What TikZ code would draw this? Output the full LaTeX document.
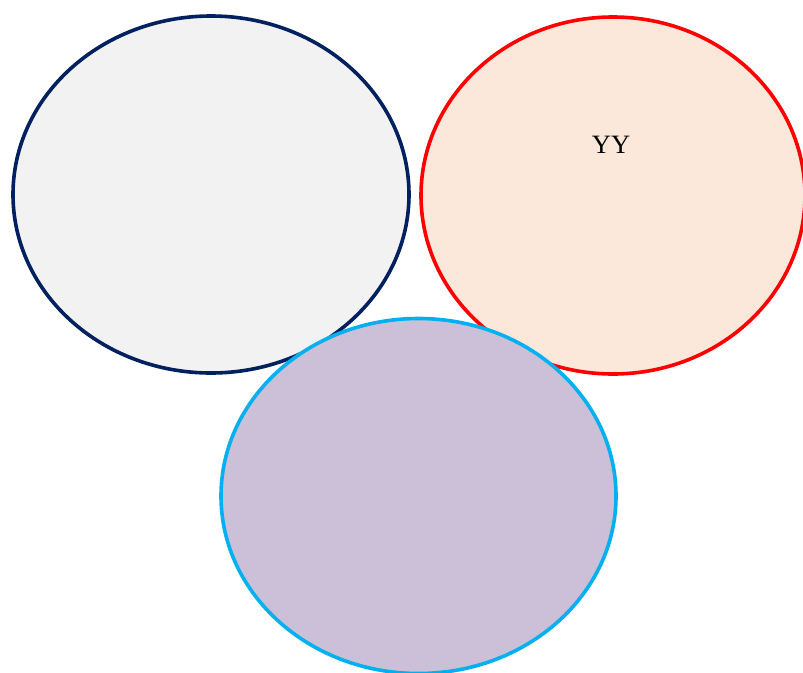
\documentclass[tikz,border=0pt]{standalone}
\usepackage{fontspec}
\setmainfont{Liberation Serif}
\definecolor{navyc}{HTML}{002060}
\definecolor{greyf}{HTML}{F2F2F2}
\definecolor{peachf}{HTML}{FBE8DA}
\definecolor{cyanc}{HTML}{00B0F0}
\definecolor{lilacf}{HTML}{CCC0D9}
\begin{document}
\begin{tikzpicture}[x=1pt,y=-1pt,
  circ/.style={line width=3.6pt}]
\useasboundingbox (0,0) rectangle (803,672);
\clip (0,0) rectangle (803,672);
\draw[circ, draw=navyc, fill=greyf] (211,194.5) ellipse [x radius=198, y radius=178.5];
\draw[circ, draw=red, fill=peachf] (613,195.5) ellipse [x radius=192, y radius=178.5];
\draw[circ, draw=cyanc, fill=lilacf] (418.5,496) ellipse [x radius=197.5, y radius=177.5];
\node[font=\fontsize{26.5}{30}\selectfont] (yy) at (611,145) {YY};
\end{tikzpicture}
\end{document}
